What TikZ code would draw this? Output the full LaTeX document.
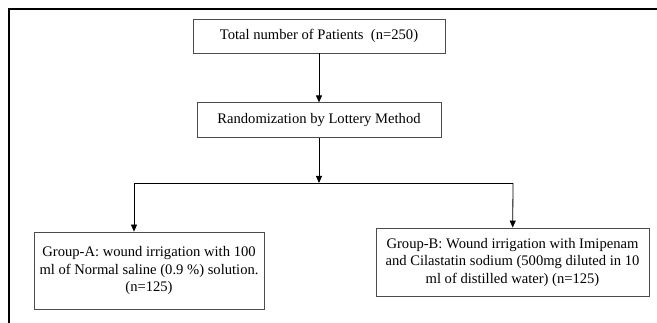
\documentclass[tikz,border=0pt]{standalone}
\usepackage{fontspec}
\setmainfont{Liberation Serif}
\usetikzlibrary{arrows.meta,positioning,calc}

\begin{document}
\begin{tikzpicture}[
        x=1pt, y=1pt,
        font=\fontsize{14.6}{17.5}\selectfont,
    % stages of the trial flow: thin dark frame, centred text
        stage/.style={draw=black!70, line width=0.8pt, rectangle, inner sep=2pt, align=center},
        flow/.style={-{Triangle[length=7pt,width=6pt]}, line width=0.8pt},
        branch/.style={line width=0.8pt},
        frame/.style={line width=2.5pt}
    ]
    \useasboundingbox (0,0) rectangle (657,-323);

% --- page frame (top and left edges only) ---
    \draw[frame] (9,-323) -- (9,-9) -- (657,-9);

% --- enrolment and allocation ---
    \node[stage, minimum width=252pt, minimum height=34pt] (total) at (319,-36) {Total number of Patients~ (n=250)};
    \node[stage, minimum width=244pt, minimum height=35pt, below=49pt of total] (random) {Randomization by Lottery Method};

% --- split point ---
    \coordinate (split)  at (319,-183);
    \coordinate (splitA) at (134,-183);
    \coordinate (splitB) at (513,-183);

% --- study groups ---
    \node[stage, minimum width=230pt, minimum height=77pt] (groupA) at (149,-270.5)
        {Group-A: wound irrigation with 100\\ml of Normal saline (0.9 \%) solution.\\(n=125)};
    \node[stage, minimum width=273pt, minimum height=68pt] (groupB) at (512.5,-262)
        {Group-B: Wound irrigation with Imipenam\\and Cilastatin sodium (500mg diluted in 10\\ml of distilled water) (n=125)};

% --- connectors ---
    \draw[flow] (total) -- (random);
    \draw[flow] (random) -- (split);
    \draw[branch] (splitA) -- (splitB);
    \draw[flow] (splitA) -- (splitA |- groupA.north);
    \draw[flow] (splitB) -- (groupB);
\end{tikzpicture}
\end{document}
